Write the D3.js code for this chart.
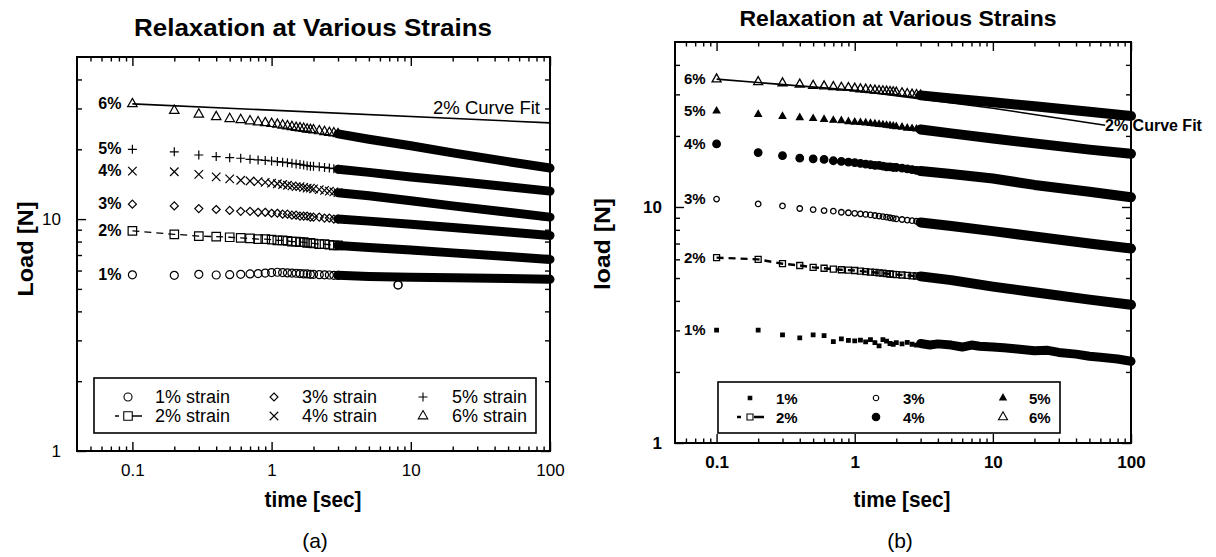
<!DOCTYPE html>
<html>
<head>
<meta charset="utf-8">
<script src="https://cdn.jsdelivr.net/npm/d3@7"></script>
<style>
  body { margin: 0; background: #fff; }
  svg text { font-family: "Liberation Sans", Arial, Helvetica, sans-serif; fill: #000; }
</style>
</head>
<body>
<svg id="chart" width="1216" height="557"></svg>
<script>
// sample times (s): single markers, then the dense part drawn as a band
const tMark = [0.1,0.2,0.3,0.4,0.5,0.6,0.7,0.8,0.9,1.0,1.1,1.2,1.3,1.4,1.5,1.6,1.7,1.8,1.9,2.0,2.2,2.4,2.6,2.8,3.0];
const tBand = [3,5,10,20,50,100];
const strains = ["1%","2%","3%","4%","5%","6%"];
const xMajor = [0.1,1,10,100];
const yMajor = [1,10];

// panel (a) load [N]
const a1Mark = [5.75,5.72,5.78,5.74,5.76,5.78,5.8,5.82,5.85,5.88,5.9,5.88,5.86,5.85,5.84,5.82,5.8,5.8,5.78,5.78,5.76,5.75,5.74,5.72,5.72];
const a1Band = [5.72,5.66,5.62,5.58,5.54,5.5];
const a2Mark = [8.9,8.6,8.45,8.4,8.35,8.3,8.25,8.2,8.2,8.15,8.1,8.1,8.05,8.0,8.0,7.95,7.95,7.9,7.9,7.85,7.8,7.8,7.75,7.7,7.7];
const a2Band = [7.7,7.55,7.35,7.15,6.9,6.7];
const a3Mark = [11.6,11.4,11.1,11.0,10.9,10.8,10.8,10.7,10.7,10.6,10.6,10.5,10.5,10.4,10.4,10.3,10.3,10.3,10.2,10.2,10.2,10.1,10.1,10.0,10.0];
const a3Band = [10.0,9.8,9.5,9.2,8.8,8.5];
const a4Mark = [16.1,16.0,15.6,15.2,14.9,14.7,14.6,14.5,14.4,14.3,14.2,14.1,14.0,13.9,13.8,13.8,13.7,13.6,13.6,13.5,13.4,13.3,13.2,13.1,13.0];
const a4Band = [13.0,12.6,12.0,11.4,10.7,10.2];
const a5Mark = [20.0,19.5,18.9,18.6,18.4,18.3,18.1,18.0,17.9,17.8,17.7,17.6,17.5,17.4,17.3,17.2,17.1,17.0,16.9,16.9,16.8,16.7,16.6,16.5,16.4];
const a5Band = [16.4,15.9,15.2,14.6,13.8,13.2];
const a6Mark = [31.4,29.4,28.3,27.6,27.1,26.8,26.5,26.2,26.0,25.8,25.6,25.4,25.2,25.0,24.8,24.7,24.6,24.4,24.3,24.2,24.0,23.8,23.6,23.5,23.3];
const a6Band = [23.3,22.1,20.7,19.3,17.7,16.6];
const a1OddT = [8.1];
const a1OddV = [5.2];
const fitTA = [0.1,100];
const fitA = [31.4,26.0];

// panel (b) load [N]
const b1Mark = [3.01,3.01,2.87,2.79,2.87,2.85,2.69,2.76,2.72,2.71,2.73,2.68,2.74,2.66,2.58,2.74,2.7,2.64,2.62,2.66,2.63,2.67,2.62,2.6,2.64];
const tBandB1 = [3,3.5,4,5,6,7,8,10,12,15,20,25,30,40,50,60,80,100];
const b1Band = [2.64,2.6,2.63,2.6,2.55,2.6,2.57,2.55,2.53,2.5,2.46,2.47,2.42,2.38,2.33,2.31,2.27,2.22];
const b2Mark = [6.1,6.0,5.75,5.65,5.55,5.5,5.45,5.42,5.4,5.38,5.35,5.32,5.3,5.28,5.26,5.24,5.22,5.2,5.18,5.17,5.15,5.13,5.11,5.1,5.08];
const b2Band = [5.08,4.9,4.6,4.35,4.05,3.85];
const b3Mark = [10.8,10.3,10.1,9.85,9.75,9.65,9.6,9.5,9.45,9.4,9.35,9.3,9.25,9.2,9.15,9.1,9.05,9.0,8.95,8.9,8.85,8.8,8.75,8.7,8.6];
const b3Band = [8.6,8.3,7.9,7.5,7.0,6.67];
const b4Mark = [18.5,17.0,16.5,16.1,16.0,15.9,15.7,15.6,15.5,15.4,15.3,15.2,15.1,15.0,15.0,14.9,14.8,14.8,14.7,14.7,14.6,14.5,14.4,14.3,14.2];
const b4Band = [14.2,13.8,13.2,12.4,11.6,11.0];
const b5Mark = [25.5,24.7,24.2,23.9,23.7,23.5,23.3,23.2,23.0,22.9,22.8,22.7,22.6,22.5,22.4,22.3,22.2,22.1,22.0,21.9,21.8,21.6,21.5,21.4,21.3];
const b5Band = [21.3,20.5,19.5,18.6,17.5,16.8];
const b6Mark = [34.8,33.9,33.5,33.1,32.7,32.5,32.3,32.1,32.0,31.8,31.6,31.5,31.3,31.2,31.1,31.0,30.9,30.8,30.7,30.6,30.4,30.2,30.0,29.9,29.7];
const b6Band = [29.7,28.8,27.8,26.7,25.3,24.3];
const fitTB = [0.1,1,10,65];
const fitB = [34.8,31.2,26.2,22.2];

const svg = d3.select("#chart");

function markerPath(type, s) {
  const h = s / 2;
  if (type == "circle") return `M${h},0A${h},${h} 0 1,1 ${-h},0A${h},${h} 0 1,1 ${h},0Z`;
  if (type == "square") return `M${-h},${-h}H${h}V${h}H${-h}Z`;
  if (type == "diamond") return `M0,${-h}L${h},0L0,${h}L${-h},0Z`;
  if (type == "tri") return `M0,${-0.58*s}L${h},${0.3*s}L${-h},${0.3*s}Z`;
  if (type == "plus") return `M${-h},0H${h}M0,${-h}V${h}`;
  if (type == "times") return `M${-h},${-h}L${h},${h}M${-h},${h}L${h},${-h}`;
}

function drawPanel(p) {
  const x = d3.scaleLog().domain(p.xDom).range([p.left, p.right]);
  const y = d3.scaleLog().domain([1, 50]).range([p.bottom, p.top]);
  const g = svg.append("g");

  // minor ticks
  const minorX = [], minorY = [];
  [0.01, 0.1, 1, 10].forEach(function(d) {
    for (let k = 2; k <= 9; k++) {
      const v = +(d * k).toPrecision(2);
      if (v > p.xDom[0] && v < 100) minorX.push(v);
    }
  });
  [1, 10].forEach(function(d) {
    for (let k = 2; k <= 9; k++) { if (d * k < 50) minorY.push(d * k); }
  });

  function axis(gen, tr, vals, len, labels, pad) {
    const a = gen.tickValues(vals).tickSize(-len).tickPadding(pad || 3)
      .tickFormat(labels ? (d => String(d)) : "");
    const s = g.append("g").attr("transform", tr).call(a);
    s.select(".domain").remove();
    s.selectAll("line").attr("stroke", "#000").attr("stroke-width", 1.4);
    s.selectAll("text").attr("font-size", p.tickFont).attr("font-weight", p.tickWeight)
      .attr("font-family", "Liberation Sans, Arial, sans-serif").attr("fill", "#000");
  }
  axis(d3.axisBottom(x), `translate(0,${p.bottom})`, xMajor, 9, true, p.xPad);
  axis(d3.axisBottom(x), `translate(0,${p.bottom})`, minorX, 4.5, false);
  axis(d3.axisTop(x), `translate(0,${p.top})`, xMajor, 9, false);
  axis(d3.axisTop(x), `translate(0,${p.top})`, minorX, 4.5, false);
  axis(d3.axisLeft(y), `translate(${p.left},0)`, yMajor, 9, true, p.yPad);
  axis(d3.axisLeft(y), `translate(${p.left},0)`, minorY, 5, false);
  axis(d3.axisRight(y), `translate(${p.right},0)`, yMajor, 9, false);
  axis(d3.axisRight(y), `translate(${p.right},0)`, minorY, 5, false);

  g.append("rect").attr("x", p.left).attr("y", p.top)
    .attr("width", p.right - p.left).attr("height", p.bottom - p.top)
    .attr("fill", "none").attr("stroke", "#000").attr("stroke-width", 2);

  const line = d3.line().x(d => x(d[0])).y(d => y(d[1]));

  // curve fit
  g.append("path").attr("d", line(p.fitT.map((t, i) => [t, p.fit[i]])))
    .attr("fill", "none").attr("stroke", "#000").attr("stroke-width", 1.6);

  p.series.forEach(function(s, si) {
    const pts = tMark.map((t, i) => [t, s.mark[i]]);
    const band = (s.bandT || tBand).map((t, i) => [t, s.band[i]]);
    if (s.dashed) {
      g.append("path").attr("d", line(pts.concat(band.slice(0, 2))))
        .attr("fill", "none").attr("stroke", "#000")
        .attr("stroke-width", p.dashWidth).attr("stroke-dasharray", "7,5");
    }
    g.append("path").attr("d", line(band))
      .attr("fill", "none").attr("stroke", "#000")
      .attr("stroke-width", s.bandWidth || p.bandWidth).attr("stroke-linecap", "round")
      .attr("stroke-linejoin", "round");
    g.selectAll(null).data(pts).enter().append("path")
      .attr("transform", d => `translate(${x(d[0])},${y(d[1])})`)
      .attr("d", markerPath(s.shape, s.size))
      .attr("fill", s.fill ? "#000" : "none")
      .attr("stroke", "#000").attr("stroke-width", p.markStroke);
    if (s.oddT) {
      g.selectAll(null).data(s.oddT).enter().append("path")
        .attr("transform", (d, i) => `translate(${x(d)},${y(s.oddV[i])})`)
        .attr("d", markerPath(s.shape, s.size))
        .attr("fill", "#fff").attr("stroke", "#000").attr("stroke-width", p.markStroke + 0.4);
    }
    g.append("text").attr("x", x(0.1) - p.labelGap).attr("y", y(s.mark[0]) + 5)
      .attr("text-anchor", "end").attr("font-size", p.pctFont).attr("font-weight", "bold")
      .text(strains[si]);
  });

  // curve fit label
  g.append("text").attr("x", p.fitLabel[0]).attr("y", p.fitLabel[1])
    .attr("text-anchor", p.fitLabel[2]).attr("font-size", p.fitFont)
    .attr("font-weight", p.fitWeight).text("2% Curve Fit");

  // legend
  const L = p.legend;
  g.append("rect").attr("x", L.box[0]).attr("y", L.box[1])
    .attr("width", L.box[2] - L.box[0]).attr("height", L.box[3] - L.box[1])
    .attr("fill", "#fff").attr("stroke", "#000").attr("stroke-width", 1.6);
  p.series.forEach(function(s, si) {
    const col = Math.floor(si / 2), row = si % 2;
    const sx = L.symX[col], sy = L.rowY[row];
    if (s.dashed) {
      g.append("path").attr("d", `M${sx - 13},${sy}H${sx - 9}M${sx + 4},${sy}H${sx + 14}`)
        .attr("stroke", "#000").attr("stroke-width", p.dashWidth);
    }
    g.append("path").attr("transform", `translate(${sx},${sy})`)
      .attr("d", markerPath(s.shape, s.legSize || s.size))
      .attr("fill", s.fill ? "#000" : "none").attr("stroke", "#000").attr("stroke-width", 1.1);
    g.append("text").attr("x", L.textX[col]).attr("y", sy + 6)
      .attr("font-size", L.font).attr("font-weight", L.weight)
      .text(strains[si] + L.suffix);
  });

  // titles
  g.append("text").attr("x", p.title[0]).attr("y", p.title[1]).attr("text-anchor", "middle")
    .attr("font-size", p.title[2]).attr("font-weight", "bold")
    .attr("textLength", p.title[3]).attr("lengthAdjust", "spacingAndGlyphs")
    .text("Relaxation at Various Strains");
  g.append("text").attr("x", p.xTitle[0]).attr("y", p.xTitle[1]).attr("text-anchor", "middle")
    .attr("font-size", 22).attr("font-weight", "bold")
    .attr("textLength", 97).attr("lengthAdjust", "spacingAndGlyphs")
    .text("time [sec]");
  g.append("text").attr("transform", `translate(${p.yTitle[0]},${p.yTitle[1]}) rotate(-90)`)
    .attr("text-anchor", "middle").attr("font-size", 22).attr("font-weight", "bold")
    .attr("textLength", p.yTitle[3]).attr("lengthAdjust", "spacingAndGlyphs")
    .text(p.yTitle[2]);
  g.append("text").attr("x", p.caption[0]).attr("y", p.caption[1]).attr("text-anchor", "middle")
    .attr("font-size", 21).attr("font-family", "Liberation Serif, Times New Roman, serif")
    .text(p.caption[2]);
}

drawPanel({
  xDom: [0.04, 100], left: 77, right: 550, top: 57, bottom: 451,
  tickFont: 17, tickWeight: "normal", xPad: 13, yPad: 16,
  bandWidth: 9, dashWidth: 1.3, markStroke: 1.2, labelGap: 11, pctFont: 16,
  fitT: fitTA, fit: fitA,
  fitLabel: [540, 114, "end"], fitFont: 18.5, fitWeight: "normal",
  series: [
    { mark: a1Mark, band: a1Band, shape: "circle", size: 8, oddT: a1OddT, oddV: a1OddV },
    { mark: a2Mark, band: a2Band, shape: "square", size: 8.5, dashed: true },
    { mark: a3Mark, band: a3Band, shape: "diamond", size: 8 },
    { mark: a4Mark, band: a4Band, shape: "times", size: 8.5 },
    { mark: a5Mark, band: a5Band, shape: "plus", size: 9 },
    { mark: a6Mark, band: a6Band, shape: "tri", size: 9.5 }
  ],
  legend: { box: [94, 378, 536, 433], symX: [128, 274, 423], textX: [155, 302, 452],
            rowY: [397, 416], font: 18, weight: "normal", suffix: " strain" },
  title: [313, 36, 24, 358],
  xTitle: [313, 507], yTitle: [33, 249, "Load [N]", 95],
  caption: [315, 548, "(a)"]
});

drawPanel({
  xDom: [0.05, 100], left: 675, right: 1131, top: 42, bottom: 443,
  tickFont: 17, tickWeight: "bold", xPad: 13, yPad: 13,
  bandWidth: 10, dashWidth: 2.4, markStroke: 1.3, labelGap: 11, pctFont: 15,
  fitT: fitTB, fit: fitB,
  fitLabel: [1105, 131, "start"], fitFont: 16, fitWeight: "bold",
  series: [
    { mark: b1Mark, band: b1Band, bandT: tBandB1, shape: "square", size: 3.5, fill: true, bandWidth: 9 },
    { mark: b2Mark, band: b2Band, shape: "square", size: 6, dashed: true },
    { mark: b3Mark, band: b3Band, shape: "circle", size: 5.5 },
    { mark: b4Mark, band: b4Band, shape: "circle", size: 7.5, fill: true },
    { mark: b5Mark, band: b5Band, shape: "tri", size: 6.5, fill: true },
    { mark: b6Mark, band: b6Band, shape: "tri", size: 9 }
  ],
  legend: { box: [718, 382, 1060, 433], symX: [750, 876, 1003], textX: [776, 903, 1029],
            rowY: [398, 417], font: 15, weight: "bold", suffix: "" },
  title: [898, 26, 22, 317],
  xTitle: [902, 507], yTitle: [610, 244, "load [N]", 92],
  caption: [900, 548, "(b)"]
});
</script>
</body>
</html>
